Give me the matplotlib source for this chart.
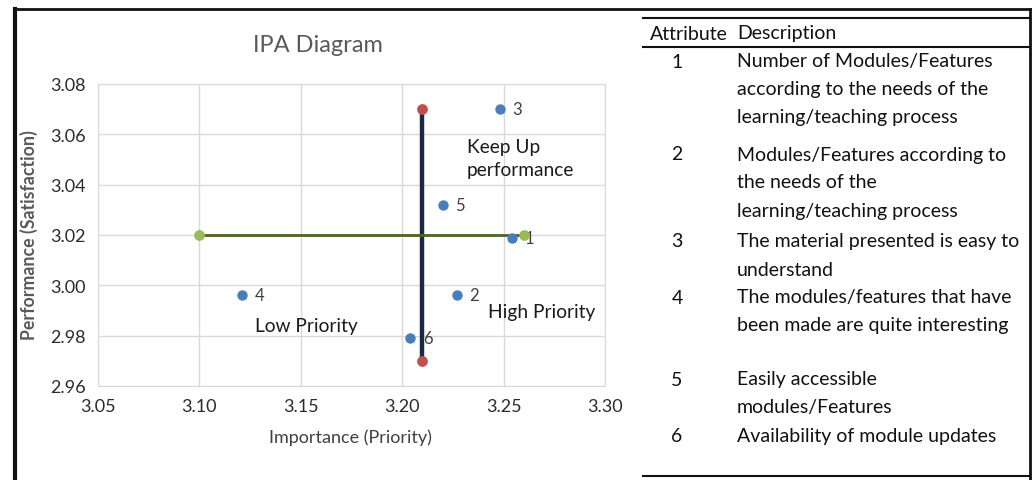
import matplotlib.pyplot as plt
from matplotlib.lines import Line2D

plt.rcParams['font.family'] = ['Lato', 'DejaVu Sans']

W, H = 1035, 481

# data
attributes = ["1", "2", "3", "4", "5", "6"]
importance = [3.254, 3.227, 3.248, 3.121, 3.220, 3.204]
performance = [3.019, 2.996, 3.070, 2.996, 3.032, 2.979]

imp_mean = 3.21
perf_range = [2.97, 3.07]
perf_mean = 3.02
imp_range = [3.10, 3.26]

x_ticks = [3.05, 3.10, 3.15, 3.20, 3.25, 3.30]
y_ticks = [2.96, 2.98, 3.00, 3.02, 3.04, 3.06, 3.08]

descriptions = [
    ["Number of Modules/Features", "according to the needs of the", "learning/teaching process"],
    ["Modules/Features according to", "the needs of the", "learning/teaching process"],
    ["The material presented is easy to", "understand"],
    ["The modules/features that have", "been made are quite interesting"],
    ["Easily accessible", "modules/Features"],
    ["Availability of module updates"],
]
row_tops = [62, 155, 242, 298, 380, 437]
LINE_H = 28


def fx(x):
    return x / W


def fy(y):
    return 1 - y / H


fig = plt.figure(figsize=(W / 100, H / 100), dpi=100)

ax = fig.add_axes([fx(98), fy(387), (605 - 98) / W, (387 - 85) / H])
ax.set_xlim(3.05, 3.30)
ax.set_ylim(2.96, 3.08)
ax.set_xticks(x_ticks)
ax.set_yticks(y_ticks)
ax.set_xticklabels([f"{v:.2f}" for v in x_ticks])
ax.set_yticklabels([f"{v:.2f}" for v in y_ticks])
ax.tick_params(length=0, labelsize=13, colors="#2b2b2b", pad=9)
ax.grid(True, color="#d9d9d9", linewidth=1)
ax.set_axisbelow(True)
for s in ax.spines.values():
    s.set_color("#d9d9d9")

# quadrant lines
ax.plot([imp_mean, imp_mean], perf_range, color="#1b2a41", linewidth=3.2, zorder=3)
ax.scatter([imp_mean, imp_mean], perf_range, color="#c0504d", s=45, zorder=4)
ax.plot(imp_range, [perf_mean, perf_mean], color="#4f6228", linewidth=2, zorder=3)
ax.scatter(imp_range, [perf_mean, perf_mean], color="#9bbb59", s=45, zorder=4)

# attribute points
ax.scatter(importance, performance, color="#4a7ebb", s=42, zorder=5)
for a, x, y in zip(attributes, importance, performance):
    ax.annotate(a, (x, y), xytext=(9, 0), textcoords="offset points",
                va="center", fontsize=12, color="#404040")

ax.text(3.232, 3.0585, "Keep Up\nperformance", fontsize=13.8, va="top",
        linespacing=1.45, color="#1a1a1a")
ax.text(3.2425, 2.9898, "High Priority", fontsize=13.8, va="center", color="#1a1a1a")
ax.text(3.1274, 2.9839, "Low Priority", fontsize=13.8, va="center", color="#1a1a1a")

fig.text(fx(318), fy(46), "IPA Diagram", fontsize=17, color="#595959",
         ha="center", va="center")
fig.text(fx(350), fy(438), "Importance (Priority)", fontsize=13, color="#404040",
         ha="center", va="center")
fig.text(fx(29), fy(235), "Performance (Satisfaction)", fontsize=12.8, color="#595959",
         ha="center", va="center", rotation=90, fontweight="bold")

# frame
for xs, ys, lw in [([14, 1030], [10, 10], 2), ([15, 15], [10, 481], 3),
                   ([1030, 1030], [10, 481], 2), ([643, 1030], [19, 19], 1.5),
                   ([643, 1030], [48, 48], 1.5), ([643, 1030], [477, 477], 1.5)]:
    fig.add_artist(Line2D([fx(x) for x in xs], [fy(y) for y in ys],
                          color="#111111", linewidth=lw))

# table
fig.text(fx(650), fy(34), "Attribute", fontsize=14, color="#111111", va="center")
fig.text(fx(737), fy(34), "Description", fontsize=14, color="#111111", va="center")
for a, lines, y in zip(attributes, descriptions, row_tops):
    fig.text(fx(677), fy(y), a, fontsize=14, color="#111111", ha="center", va="center")
    for i, line in enumerate(lines):
        fig.text(fx(737), fy(y + i * LINE_H), line, fontsize=14, color="#111111",
                 va="center")

fig.savefig("out.png", dpi=100)
